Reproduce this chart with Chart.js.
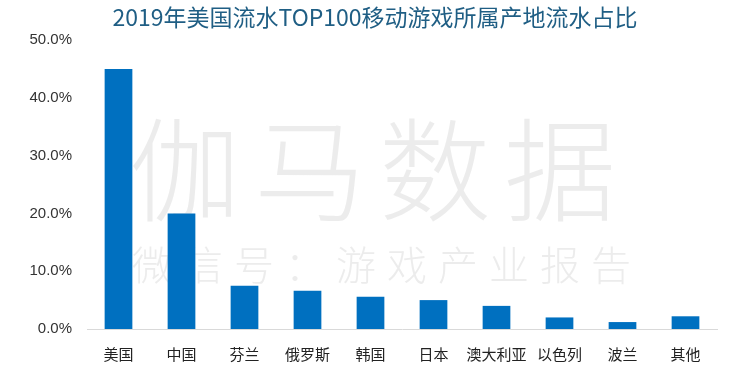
<!DOCTYPE html>
<html><head><meta charset="utf-8">
<script src="https://cdn.jsdelivr.net/npm/chart.js@4"></script>
<style>html,body{margin:0;padding:0;background:#fff}#wrap{width:750px;height:372px}</style>
</head><body><div id="wrap"><canvas id="c" width="750" height="372"></canvas></div>
<script>
const categories = ['美国','中国','芬兰','俄罗斯','韩国','日本','澳大利亚','以色列','波兰','其他'];
const shares = [45.0, 20.0, 7.5, 6.6, 5.6, 5.0, 4.0, 2.0, 1.2, 2.2];
const yTicks = [0, 10, 20, 30, 40, 50];
const titleText = '2019年美国流水TOP100移动游戏所属产地流水占比';
const watermarkBig = '伽马数据';
const watermarkSmall = '微信号：游戏产业报告';

const FONT = '"Noto Sans CJK SC", "Liberation Sans", Arial, sans-serif';

const watermark = {
  id: 'watermark',
  beforeDatasetsDraw(chart) {
    const ctx = chart.ctx;
    ctx.save();
    ctx.fillStyle = 'rgba(200,200,200,0.35)';
    ctx.textBaseline = 'middle';
    ctx.textAlign = 'center';
    ctx.font = '300 112px ' + FONT;
    const bigX = [185, 310, 435, 560];
    [...watermarkBig].forEach((ch, i) => ctx.fillText(ch, bigX[i], 170));
    ctx.font = '300 40px ' + FONT;
    [...watermarkSmall].forEach((ch, i) => ctx.fillText(ch, 152 + i * 51, 265));
    ctx.restore();
  }
};

new Chart(document.getElementById('c'), {
  type: 'bar',
  data: {
    labels: categories,
    datasets: [{
      data: shares,
      backgroundColor: '#0070c0',
      borderWidth: 0,
      categoryPercentage: 1.0,
      barPercentage: 0.44
    }]
  },
  options: {
    responsive: false,
    animation: false,
    devicePixelRatio: 1,
    layout: { padding: 0 },
    plugins: {
      legend: { display: false },
      tooltip: { enabled: false },
      title: {
        display: true,
        text: titleText,
        color: '#1f5e84',
        font: { family: FONT, size: 23, weight: 'normal', lineHeight: 1.2 },
        padding: { top: 3, bottom: 9.4 }
      }
    },
    scales: {
      x: {
        grid: { display: false },
        border: { display: true, color: '#d9d9d9', width: 1 },
        ticks: { color: '#222', font: { family: FONT, size: 15 }, padding: 8, maxRotation: 0, autoSkip: false },
        afterFit(s) { s.height = 43; }
      },
      y: {
        min: 0, max: 50,
        afterBuildTicks(s) { s.ticks = yTicks.map(v => ({ value: v })); },
        grid: { display: false },
        border: { display: false },
        ticks: {
          color: '#333',
          font: { family: '"Liberation Sans", Arial, sans-serif', size: 15 },
          padding: 7,
          callback: v => v.toFixed(1) + '%'
        },
        afterFit(s) { s.width = 87; }
      },
      yRight: {
        position: 'right',
        min: 0, max: 50,
        grid: { display: false },
        border: { display: false },
        ticks: { display: false },
        afterFit(s) { s.width = 33; }
      }
    }
  },
  plugins: [watermark]
});
</script>
</body></html>
